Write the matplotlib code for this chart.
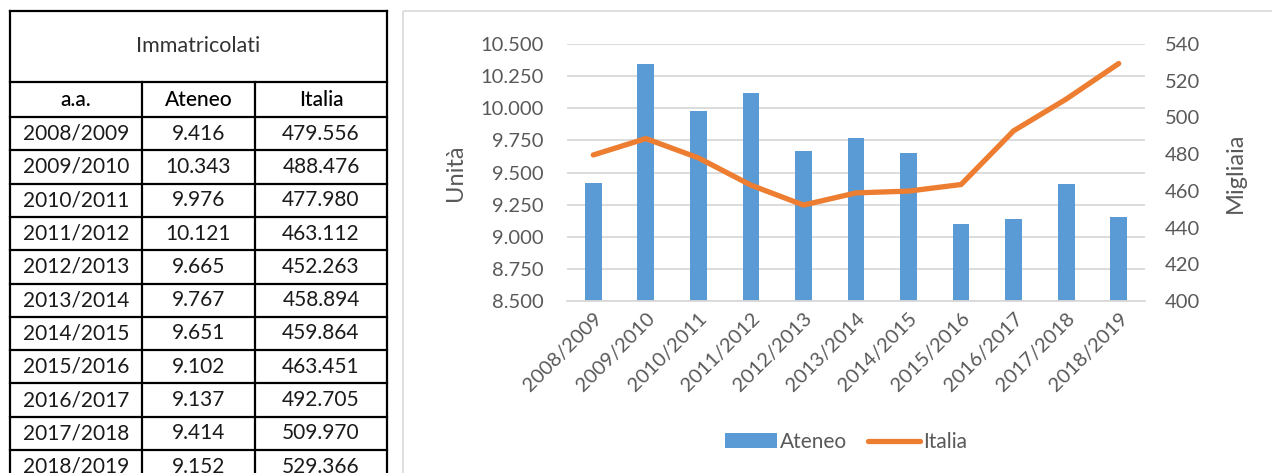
import matplotlib.pyplot as plt
from matplotlib.patches import Rectangle

# data from the table
anni = ['2008/2009', '2009/2010', '2010/2011', '2011/2012', '2012/2013', '2013/2014',
        '2014/2015', '2015/2016', '2016/2017', '2017/2018', '2018/2019']
ateneo = [9416, 10343, 9976, 10121, 9665, 9767, 9651, 9102, 9137, 9414, 9152]
italia = [479556, 488476, 477980, 463112, 452263, 458894, 459864, 463451, 492705, 509970, 529366]

W, H = 1272, 473
plt.rcParams['font.family'] = ['Lato', 'DejaVu Sans']

blu = '#5B9BD5'
arancio = '#ED7D31'
grigio = '#595959'


def fmt(n):
    # italian thousands separator
    return f'{n:,}'.replace(',', '.')


fig = plt.figure(figsize=(W / 100, H / 100), dpi=100)

# ---- table on the left, drawn in pixel coordinates ----
tb = fig.add_axes([0, 0, 1, 1])
tb.set_xlim(0, W)
tb.set_ylim(H, 0)
tb.axis('off')

x0, x1, x2, x3 = 10, 142, 255, 387
top, head, rows0, rh = 11, 82, 117, 33.3
lw = 1.6
n = len(anni)
bottom = rows0 + rh * n
tb.plot([x0, x3], [top, top], color='black', lw=lw)
tb.plot([x0, x3], [head, head], color='black', lw=lw)
for i in range(n + 1):
    y = rows0 + rh * i
    tb.plot([x0, x3], [y, y], color='black', lw=lw)
for x in (x0, x3):
    tb.plot([x, x], [top, bottom], color='black', lw=lw)
for x in (x1, x2):
    tb.plot([x, x], [head, bottom], color='black', lw=lw)

tb.text((x0 + x3) / 2, (top + head) / 2, 'Immatricolati', ha='center', va='center',
        fontsize=15.5, fontweight='normal', color='#333333')
for xa, xb, t in [(x0, x1, 'a.a.'), (x1, x2, 'Ateneo'), (x2, x3, 'Italia')]:
    tb.text((xa + xb) / 2, (head + rows0) / 2, t, ha='center', va='center',
            fontsize=15, fontweight='medium', color='black')
for i in range(n):
    yc = rows0 + rh * i + rh / 2
    for xa, xb, t in [(x0, x1, anni[i]), (x1, x2, fmt(ateneo[i])), (x2, x3, fmt(italia[i]))]:
        tb.text((xa + xb) / 2, yc, t, ha='center', va='center', fontsize=15, color='#1a1a1a')

# chart frame
tb.add_patch(Rectangle((403, 11), 900, 500, fill=False, edgecolor='#D9D9D9', lw=1.2))

# ---- combo chart ----
ax = fig.add_axes([567 / W, 1 - 301 / H, (1145 - 567) / W, (301 - 44) / H])
ax2 = ax.twinx()
xs = list(range(n))
b = ax.bar(xs, ateneo, width=0.32, color=blu, label='Ateneo', zorder=2)
l, = ax2.plot(xs, [v / 1000 for v in italia], color=arancio, lw=3.8,
              solid_capstyle='round', label='Italia', zorder=3)

ax.set_xlim(-0.5, n - 0.5)
ax.set_ylim(8500, 10500)
ax.set_yticks([8500 + 250 * k for k in range(9)])
ax.set_yticklabels([fmt(8500 + 250 * k) for k in range(9)])
ax2.set_ylim(400, 540)
ax2.set_yticks(range(400, 541, 20))
ax.yaxis.grid(True, color='#D9D9D9', lw=1.3, zorder=0)
ax.set_axisbelow(True)
ax.set_xticks(xs)
ax.set_xticklabels(anni, rotation=45, ha='right', rotation_mode='anchor')

for a in (ax, ax2):
    for s in a.spines.values():
        s.set_visible(False)
    a.tick_params(length=0, labelsize=14.5, labelcolor=grigio)
ax.spines['bottom'].set_visible(True)
ax.spines['bottom'].set_color('#D9D9D9')
ax.spines['bottom'].set_linewidth(1.3)
ax.tick_params(axis='y', pad=17)
ax.tick_params(axis='x', pad=6)
ax2.tick_params(axis='y', pad=14)

ax.set_ylabel('Unità', fontsize=17, color=grigio, labelpad=10)
ax2.set_ylabel('Migliaia', fontsize=17, color=grigio, labelpad=18)

fig.legend([b, l], ['Ateneo', 'Italia'], loc='center', bbox_to_anchor=(846 / W, 1 - 442 / H),
           ncol=2, frameon=False, fontsize=15, labelcolor=grigio, handlelength=2.5,
           handletextpad=0.15, columnspacing=1.0)

fig.savefig('out.png', dpi=100)
